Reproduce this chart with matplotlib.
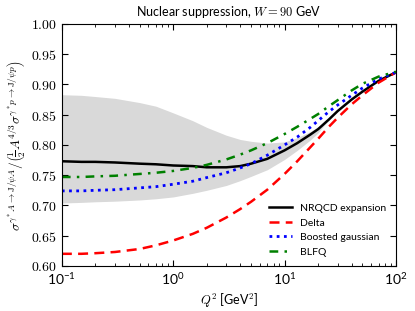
import matplotlib
matplotlib.use('Agg')
import matplotlib.pyplot as plt
import numpy as np
from matplotlib.ticker import FormatStrFormatter, LogLocator, NullFormatter

plt.rcParams['mathtext.fontset'] = 'cm'
plt.rcParams['font.family'] = ['Lato', 'DejaVu Sans']

# Q^2 grid (GeV^2)
q2 = [0.1, 0.15, 0.2, 0.3, 0.5, 0.7, 1, 1.5, 2, 3, 4, 5, 7, 10, 13, 17, 20, 25, 30, 40, 50, 70, 100]

nrqcd = [0.773, 0.772, 0.772, 0.771, 0.769, 0.768, 0.766, 0.765, 0.763, 0.763, 0.765, 0.769,
         0.777, 0.791, 0.803, 0.817, 0.826, 0.842, 0.856, 0.875, 0.888, 0.906, 0.920]
delta = [0.620, 0.620, 0.621, 0.623, 0.628, 0.634, 0.642, 0.653, 0.663, 0.680, 0.694, 0.706,
         0.726, 0.752, 0.773, 0.796, 0.810, 0.830, 0.845, 0.867, 0.882, 0.903, 0.920]
boosted = [0.724, 0.724, 0.725, 0.726, 0.729, 0.731, 0.735, 0.740, 0.746, 0.754, 0.762, 0.769,
           0.783, 0.800, 0.813, 0.829, 0.840, 0.855, 0.866, 0.882, 0.894, 0.909, 0.920]
blfq = [0.747, 0.747, 0.748, 0.749, 0.752, 0.754, 0.757, 0.762, 0.767, 0.776, 0.784, 0.791,
        0.803, 0.818, 0.830, 0.843, 0.851, 0.864, 0.874, 0.890, 0.901, 0.913, 0.921]

# grey uncertainty band of the NRQCD curve
band_hi = [0.883, 0.882, 0.880, 0.877, 0.870, 0.864, 0.853, 0.840, 0.829, 0.816, 0.809, 0.806,
           0.803, 0.805, 0.812, 0.822, 0.830, 0.842, 0.856, 0.875, 0.888, 0.906, 0.920]
band_lo = [0.704, 0.705, 0.706, 0.707, 0.709, 0.711, 0.714, 0.720, 0.725, 0.733, 0.741, 0.748,
           0.759, 0.776, 0.791, 0.808, 0.820, 0.842, 0.856, 0.875, 0.888, 0.906, 0.920]

fig = plt.figure(figsize=(4.15, 3.11), dpi=100)
ax = fig.add_axes([0.149, 0.145, 0.805, 0.778])

ax.fill_between(q2, band_lo, band_hi, color='#d9d9d9', lw=0)
ax.plot(q2, nrqcd, color='black', lw=1.8, label='NRQCD expansion')
ax.plot(q2, delta, color='red', lw=1.8, dashes=(4, 2.5), label='Delta')
ax.plot(q2, boosted, color='blue', lw=2, dashes=(1, 1.6), label='Boosted gaussian')
ax.plot(q2, blfq, color='green', lw=1.8, dashes=(3.5, 2.5, 1, 2.5), label='BLFQ')

ax.set_xscale('log')
ax.set_xlim(0.1, 100)
ax.set_ylim(0.6, 1.0)
ax.set_yticks(np.arange(0.6, 1.001, 0.05))
ax.yaxis.set_major_formatter(FormatStrFormatter('$%.2f$'))
ax.xaxis.set_minor_locator(LogLocator(base=10, subs=np.arange(2, 10)))
ax.xaxis.set_minor_formatter(NullFormatter())
ax.tick_params(which='both', direction='in', top=True, right=True, labelsize=10)
ax.tick_params(which='major', length=4)
ax.tick_params(which='minor', length=2)

ax.set_xlabel(r'$Q^2$ [GeV$^2$]', fontsize=9)
ax.set_ylabel(r'$\sigma^{\gamma^*A\to\mathrm{J}/\psi A}/\left(\frac{1}{2}A^{4/3}\sigma^{\gamma^*p\to\mathrm{J}/\psi p}\right)$', fontsize=9.5)
ax.yaxis.set_label_coords(-0.105, 0.5)
ax.set_title(r'Nuclear suppression, $W = 90$ GeV', fontsize=9)

ax.legend(loc='lower right', frameon=False, fontsize=7.5, handlelength=2.2,
          borderaxespad=0.5)

fig.savefig('out.png', dpi=100)
